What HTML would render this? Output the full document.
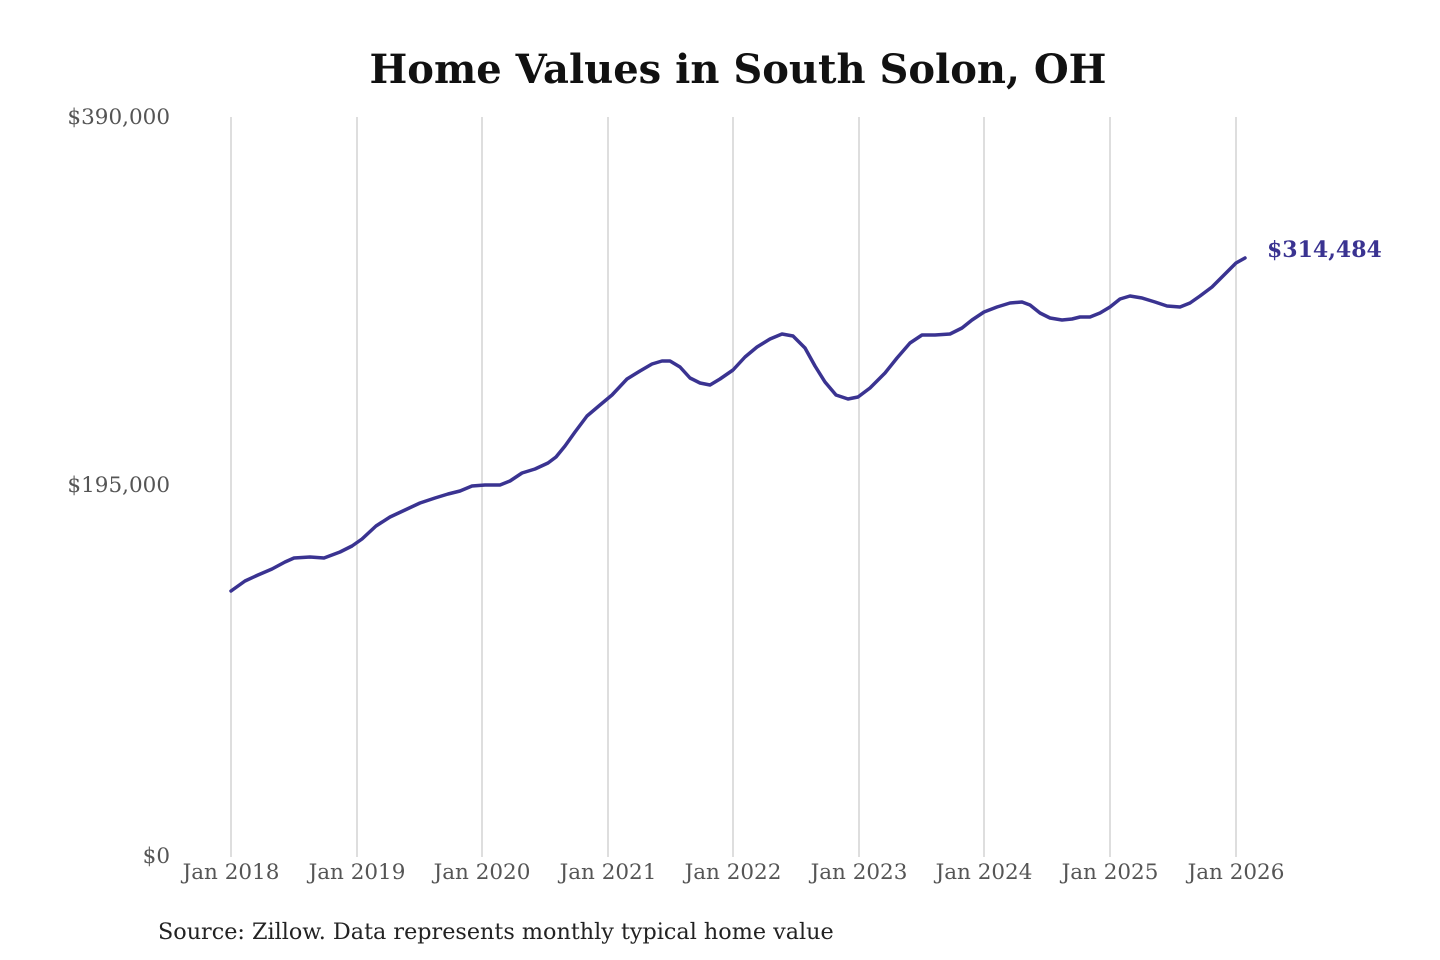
<!DOCTYPE html>
<html><head><meta charset="utf-8"><style>
body{margin:0;background:#fff;}
svg{display:block}
</style></head><body>
<svg width="1440" height="960" xmlns="http://www.w3.org/2000/svg">
<rect width="1440" height="960" fill="#fff"/>
<text x="738" y="83" text-anchor="middle" font-family="DejaVu Serif, serif" font-weight="bold" font-size="40" fill="#111">Home Values in South Solon, OH</text>
<g stroke="#c8c8c8" stroke-width="1.2">
<line x1="231" y1="117" x2="231" y2="857"/><line x1="357" y1="117" x2="357" y2="857"/>
<line x1="482" y1="117" x2="482" y2="857"/><line x1="608" y1="117" x2="608" y2="857"/>
<line x1="733" y1="117" x2="733" y2="857"/><line x1="859" y1="117" x2="859" y2="857"/>
<line x1="984" y1="117" x2="984" y2="857"/><line x1="1110" y1="117" x2="1110" y2="857"/>
<line x1="1236" y1="117" x2="1236" y2="857"/>
</g>
<g font-family="DejaVu Serif, serif" font-size="21.5" fill="#555" text-anchor="end">
<text x="170" y="124">$390,000</text><text x="170" y="492">$195,000</text><text x="170" y="863">$0</text>
</g>
<g font-family="DejaVu Serif, serif" font-size="21.5" fill="#555" text-anchor="middle">
<text x="231" y="879">Jan 2018</text><text x="357" y="879">Jan 2019</text><text x="482" y="879">Jan 2020</text>
<text x="608" y="879">Jan 2021</text><text x="733" y="879">Jan 2022</text><text x="859" y="879">Jan 2023</text>
<text x="984" y="879">Jan 2024</text><text x="1110" y="879">Jan 2025</text><text x="1236" y="879">Jan 2026</text>
</g>
<polyline fill="none" stroke="#3a3391" stroke-width="3.5" stroke-linejoin="round" stroke-linecap="round" points="231,591 245,581 258,575 272,569 285,562 294,558 310,557 324,558 340,552 352,546 362,539 376,526 390,517 405,510 420,503 435,498 448,494 460,491 472,486 485,485 500,485 510,481 522,473 535,469 548,463 556,457 565,446 575,432 587,416 600,405 612,395 627,379 640,371 652,364 662,361 670,361 680,367 690,378 700,383 710,385 720,379 733,370 745,357 757,347 770,339 782,334 793,336 805,348 815,366 825,382 836,395 848,399 858,397 870,388 885,373 897,358 910,343 922,335 935,335 950,334 962,328 972,320 984,312 997,307 1010,303 1022,302 1030,305 1040,313 1050,318 1062,320 1072,319 1080,317 1090,317 1100,313 1110,307 1120,299 1130,296 1142,298 1155,302 1167,306 1180,307 1190,303 1200,296 1212,287 1225,274 1236,263 1245,258"/>
<text x="1267" y="257" font-family="DejaVu Serif, serif" font-weight="bold" font-size="22" fill="#3a3391">$314,484</text>
<text x="158" y="939" font-family="DejaVu Serif, serif" font-size="22.3" fill="#222">Source: Zillow. Data represents monthly typical home value</text>
</svg>
</body></html>
